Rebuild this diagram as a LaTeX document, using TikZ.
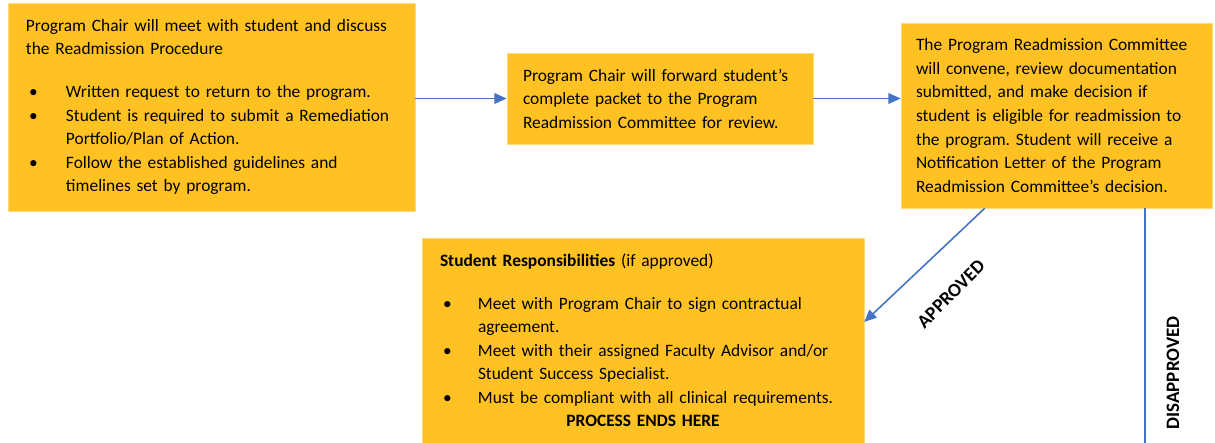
\documentclass[tikz,border=0pt]{standalone}
\usepackage{fontspec}
\setmainfont{Carlito}
\usetikzlibrary{arrows.meta}
\frenchspacing
\definecolor{boxgold}{RGB}{255,194,34}
\definecolor{flowblue}{RGB}{68,114,196}
\newcommand{\bul}[2][0.8cm]{\par\hangindent=#1\hangafter=1\noindent\makebox[#1][l]{\hspace{0.06cm}\textbullet}#2\par}
\tikzset{
  stepbox/.style={fill=boxgold, draw=boxgold!60!white, line width=0.3pt, align=left,
    inner xsep=0.36cm, inner ysep=0pt, font=\fontsize{9.9}{13.4}\selectfont},
  flow/.style={draw=flowblue, line width=0.9pt, -{Triangle[length=7pt,width=6pt]}},
  verdict/.style={font=\bfseries\fontsize{10.8}{12}\selectfont, inner sep=1pt}
}
\begin{document}
\begin{tikzpicture}
  \useasboundingbox (0,0) rectangle (24.3,8.86);
  \node[stepbox, text width=7.42cm, minimum height=4.16cm] (meet) at (4.23,6.72) {%
    Program Chair will meet with student and discuss\newline the Readmission Procedure\par
    \vspace{0.38cm}
    \bul{Written request to return to the program.}
    \bul{Student is required to submit a Remediation\newline Portfolio/Plan of Action.}
    \bul{Follow the established guidelines and\newline timelines set by program.}};
  \node[stepbox, text width=5.48cm, inner xsep=0.32cm, minimum height=1.82cm] (forward) at (13.20,6.89) {%
    Program Chair will forward student’s\newline complete packet to the Program\newline Readmission Committee for review.};
  \node[stepbox, text width=5.62cm, inner xsep=0.30cm, minimum height=3.70cm] (committee) at (21.13,6.55) {%
    The Program Readmission Committee\newline will convene, review documentation\newline submitted, and make decision if\newline student is eligible for readmission to\newline the program. Student will receive a\newline Notification Letter of the Program\newline Readmission Committee’s decision.};
  \node[stepbox, text width=8.12cm, minimum height=4.10cm] (duties) at (12.86,2.05) {%
    \textbf{Student Responsibilities} (if approved)\par
    \vspace{0.38cm}
    \bul[0.76cm]{Meet with Program Chair to sign contractual\newline agreement.}
    \bul[0.76cm]{Meet with their assigned Faculty Advisor and/or\newline Student Success Specialist.}
    \bul[0.76cm]{Must be compliant with all clinical requirements.}
    {\leftskip=0.76cm\centering\textbf{PROCESS ENDS HERE}\par}};
  \coordinate (denied) at (22.90,0);

  \draw[flow] (forward.west -| meet.east) -- (forward.west);
  \draw[flow] (forward.east) -- (forward.east -| committee.west);
  \draw[flow] ([xshift=1.68cm]committee.south west) -- ([yshift=0.37cm]duties.east);
  \draw[draw=flowblue, line width=0.9pt] (committee.south -| denied) -- (denied);

  \node[verdict, rotate=45] (approved) at (19.02,2.98) {APPROVED};
  \node[verdict, rotate=90] (disapproved) at (23.46,1.40) {DISAPPROVED};
\end{tikzpicture}
\end{document}
